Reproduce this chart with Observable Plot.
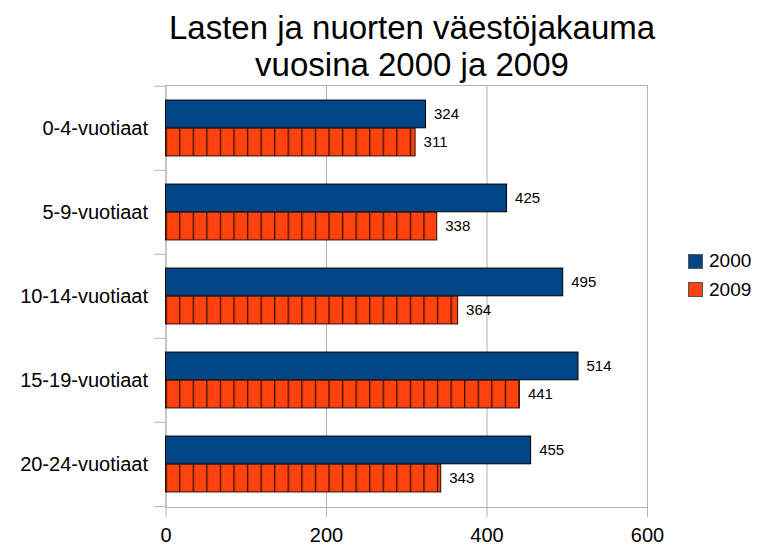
<!DOCTYPE html>
<html><head><meta charset="utf-8">
<script src="https://cdn.jsdelivr.net/npm/d3@7"></script>
<script src="https://cdn.jsdelivr.net/npm/@observablehq/plot@0.6"></script>
<style>
body{margin:0;background:#fff;font-family:"Liberation Sans",Arial,sans-serif;}
#wrap{position:relative;width:758px;height:546px;overflow:hidden;}
#title{height:76px;padding-top:9px;box-sizing:border-box;font-size:33px;line-height:37px;text-align:center;padding-left:66px;white-space:nowrap;color:#000;}
#legend{position:absolute;left:688px;top:253px;font-size:19px;color:#000;}
.item{display:flex;align-items:center;height:16px;margin-bottom:12.5px;}
.sw{width:13px;height:13px;border:1px solid #555;margin-right:6px;box-sizing:content-box;}
svg g[aria-label="x-axis tick"] path, svg g[aria-label="x-axis"] .tick line{stroke:#b3b3b3;}
</style>
</head><body>
<div id="wrap">
<div id="title">Lasten ja nuorten väestöjakauma<br>vuosina 2000 ja 2009</div>
<div id="chart"></div>
<div id="legend"></div>
</div>
<script>
const categories = ["0-4-vuotiaat","5-9-vuotiaat","10-14-vuotiaat","15-19-vuotiaat","20-24-vuotiaat"];
const values2000 = [324,425,495,514,455];
const values2009 = [311,338,364,441,343];
const seriesNames = ["2000","2009"];
const seriesColors = ["#004586","#ff420e"];
const xTicks = [0,200,400,600];

const d2000 = categories.map((c,i)=>({cat:c, year:seriesNames[0], value:values2000[i]}));
const d2009 = categories.map((c,i)=>({cat:c, year:seriesNames[1], value:values2009[i]}));

const W=758, H=470, mt=9, mb=39, ml=165.5, mr=111;
const bw=(H-mt-mb)/categories.length;
const font = "'Liberation Sans', Arial, sans-serif";

const defsMark = () => {
  const defs = d3.create("svg:defs");
  const p = defs.append("pattern").attr("id","brick").attr("patternUnits","userSpaceOnUse")
    .attr("x", ml).attr("y", 0).attr("width", 13.57).attr("height", 20);
  p.append("rect").attr("width", 13.57).attr("height", 20).attr("fill", seriesColors[1]);
  p.append("rect").attr("width", 1).attr("height", 20).attr("fill", "#3a0f00");
  p.append("rect").attr("x", 1).attr("width", 1).attr("height", 20).attr("fill", "#b8320a");
  return defs.node();
};

const chart = Plot.plot({
  width: W, height: H,
  marginTop: mt, marginBottom: mb, marginLeft: ml, marginRight: mr,
  style: {fontFamily: font, fontSize: "20px", background: "transparent", color: "#000", overflow: "visible"},
  x: {domain: [0, 600], ticks: xTicks, tickSize: 10, tickPadding: 10, label: null},
  y: {domain: categories, padding: 0, tickSize: 0, tickPadding: 18, label: null},
  marks: [
    defsMark,
    Plot.ruleX(xTicks, {stroke: "#b3b3b3"}),
    Plot.frame({stroke: "#b3b3b3"}),
    Plot.ruleY(categories, {y: d => d, x1: -14, x2: 0, dy: -bw/2, stroke: "#b3b3b3"}),
    Plot.ruleY([categories[categories.length-1]], {y: d => d, x1: -14, x2: 0, dy: bw/2, stroke: "#b3b3b3"}),
    Plot.barX(d2000, {x: "value", y: "cat", fill: seriesColors[0], stroke: "#000", strokeWidth: 1, insetTop: bw/6, insetBottom: bw/2}),
    Plot.barX(d2009, {x: "value", y: "cat", fill: "url(#brick)", stroke: "#2b0b00", strokeWidth: 1, insetTop: bw/2, insetBottom: bw/6}),
    Plot.text(d2000, {x: "value", y: "cat", text: d => String(d.value), dx: 8, dy: -bw/6, textAnchor: "start", fontSize: 15, fill: "#000"}),
    Plot.text(d2009, {x: "value", y: "cat", text: d => String(d.value), dx: 8, dy: bw/6, textAnchor: "start", fontSize: 15, fill: "#000"})
  ]
});
document.getElementById("chart").appendChild(chart);

const lg = d3.select("#legend");
seriesNames.forEach((n, i) => {
  const it = lg.append("div").attr("class", "item");
  it.append("div").attr("class", "sw").style("background", seriesColors[i]);
  it.append("span").text(n);
});
</script>
</body></html>
